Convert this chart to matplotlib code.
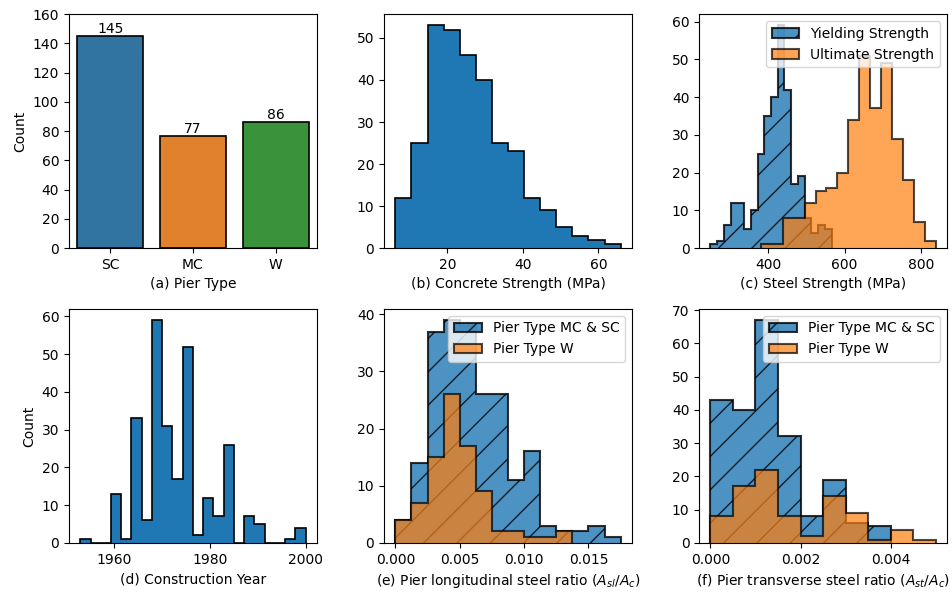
import matplotlib.pyplot as plt
import numpy as np

# (a) pier type counts
pier_types = ['SC', 'MC', 'W']
pier_counts = [145, 77, 86]
pier_colors = ['#3274a1', '#e1812c', '#3a923a']

# (b) concrete strength histogram
fc_start, fc_width = 6.2, 4.264
fc_counts = [12, 25, 53, 52, 46, 40, 25, 23, 12, 9, 5, 3, 2, 1]

# (c) steel strength histograms
fy_start, fy_width = 249.0, 17.6
fy_counts = [1, 2, 6, 12, 12, 5, 10, 25, 35, 40, 59, 42, 17, 19, 8, 4, 6, 5]
fu_start, fu_width = 381.0, 28.56
fu_counts = [1, 1, 8, 8, 12, 15, 16, 20, 34, 51, 37, 49, 29, 18, 7, 2]

# (d) construction year histogram
yr_start, yr_width = 1953.0, 2.136
yr_counts = [1, 0, 0, 13, 1, 33, 6, 59, 31, 17, 52, 2, 12, 7, 26, 0, 7, 5, 0, 0, 1, 4]

# (e) longitudinal steel ratio
rl_width = 0.00125
rl_counts_mcsc = [4, 14, 37, 39, 38, 26, 26, 11, 16, 3, 2, 2, 3, 1]
rl_counts_w = [4, 7, 15, 26, 17, 9, 2, 2, 1, 1, 2]

# (f) transverse steel ratio
rt_width = 0.0005
rt_counts_mcsc = [43, 40, 67, 32, 8, 19, 6, 5]
rt_counts_w = [8, 17, 22, 8, 2, 14, 9, 1, 4, 1]

blue = '#1f77b4'
orange = '#ff7f0e'


def edges(start, width, counts):
    return start + width * np.arange(len(counts) + 1)


def step_hist(ax, counts, start, width, **kw):
    kw.setdefault('edgecolor', 'black')
    ax.stairs(counts, edges(start, width, counts), fill=True, **kw)


fig, axes = plt.subplots(2, 3, figsize=(9.53, 5.92), dpi=100)
fig.subplots_adjust(left=0.0724, right=0.9937, bottom=0.083, top=0.976,
                    wspace=0.271, hspace=0.26)

# (a)
ax = axes[0, 0]
bars = ax.bar(pier_types, pier_counts, width=0.8, color=pier_colors,
              edgecolor='black', linewidth=1.2)
ax.bar_label(bars)
ax.set_xlim(-0.5, 2.5)
ax.set_ylim(0, 160)
ax.set_ylabel('Count')
ax.set_xlabel('(a) Pier Type')

# (b)
ax = axes[0, 1]
step_hist(ax, fc_counts, fc_start, fc_width, facecolor=blue, linewidth=1.2)
ax.set_xlabel('(b) Concrete Strength (MPa)')

# (c)
ax = axes[0, 2]
step_hist(ax, fy_counts, fy_start, fy_width, facecolor=blue, alpha=0.8,
          hatch='/', linewidth=1.5, label='Yielding Strength')
step_hist(ax, fu_counts, fu_start, fu_width, facecolor=orange, alpha=0.7,
          linewidth=1.5, label='Ultimate Strength')
ax.legend(loc='upper right')
ax.set_xlabel('(c) Steel Strength (MPa)')

# (d)
ax = axes[1, 0]
step_hist(ax, yr_counts, yr_start, yr_width, facecolor=blue, linewidth=1.2)
ax.set_xticks([1960, 1980, 2000])
ax.set_ylabel('Count')
ax.set_xlabel('(d) Construction Year')

# (e)
ax = axes[1, 1]
step_hist(ax, rl_counts_mcsc, 0.0, rl_width, facecolor=blue, alpha=0.8,
          hatch='/', linewidth=1.5, label='Pier Type MC & SC')
step_hist(ax, rl_counts_w, 0.0, rl_width, facecolor=orange, alpha=0.7,
          linewidth=1.5, label='Pier Type W')
ax.legend(loc='upper right')
ax.set_xlabel('(e) Pier longitudinal steel ratio ($A_{sl}/A_c$)')

# (f)
ax = axes[1, 2]
step_hist(ax, rt_counts_mcsc, 0.0, rt_width, facecolor=blue, alpha=0.8,
          hatch='/', linewidth=1.5, label='Pier Type MC & SC')
step_hist(ax, rt_counts_w, 0.0, rt_width, facecolor=orange, alpha=0.7,
          linewidth=1.5, label='Pier Type W')
ax.legend(loc='upper right')
ax.set_xlabel('(f) Pier transverse steel ratio ($A_{st}/A_c$)')

fig.savefig('out.png', dpi=100)
